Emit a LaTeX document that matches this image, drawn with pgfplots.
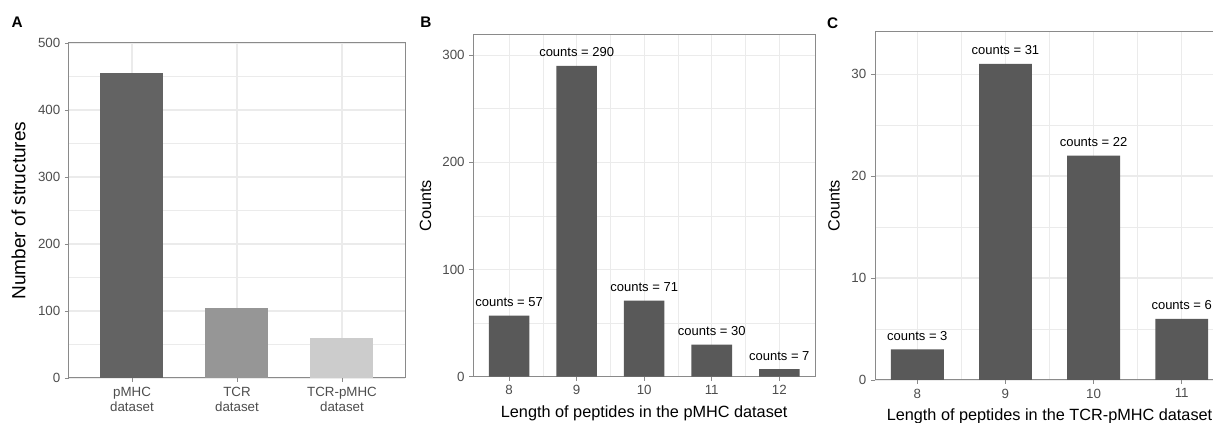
\documentclass[border=0pt]{standalone}
\usepackage{fontspec}
\setmainfont{Liberation Sans}
\usepackage{pgfplots}
\pgfplotsset{compat=1.18}

\definecolor{barA1}{HTML}{636363}
\definecolor{barA2}{HTML}{969696}
\definecolor{barA3}{HTML}{CCCCCC}
\definecolor{barB}{HTML}{595959}
\definecolor{gridc}{HTML}{EBEBEB}
\definecolor{framec}{HTML}{8A8A8A}
\definecolor{tickc}{HTML}{4D4D4D}

\pgfplotsset{
  panel/.style={
    scale only axis,
    anchor=south west,
    ybar, ymin=0,
    axis line style={framec, line width=0.75pt},
    tick style={framec, line width=0.6pt},
    tick align=outside, tick pos=left,
    major tick length=3pt, minor tick length=0pt,
    grid=both,
    major grid style={gridc, line width=0.8pt},
    minor grid style={gridc, line width=0.4pt},
    ticklabel style={font=\fontsize{10}{11.25}\selectfont, text=tickc},
    /pgf/number format/assume math mode=true,
    label style={font=\fontsize{12.2}{14}\selectfont},
    every axis plot/.append style={draw=none, bar shift=0pt},
  },
  counts/.style={
    nodes near coords={counts = \pgfmathprintnumber{\pgfplotspointmeta}},
    nodes near coords style={font=\fontsize{9.75}{11}\selectfont, text=black,
      anchor=center, inner sep=0pt, yshift=10pt},
  },
}

\begin{document}
\begin{tikzpicture}

% A: number of structures per dataset
\begin{axis}[panel,
  at={(51.75pt,33.75pt)}, width=252pt, height=251.25pt,
  xmin=0.4, xmax=3.6, ymax=500, bar width=0.6,
  xtick={1,2,3},
  xticklabels={{pMHC\\dataset},{TCR\\dataset},{TCR-pMHC\\dataset}},
  xticklabel style={align=center},
  ytick={0,100,...,500}, minor ytick={50,150,...,450},
  ylabel={Number of structures},
  ylabel style={at={(axis description cs:-0.150,0.5)}, anchor=center,
    font=\fontsize{14.3}{16}\selectfont},
]
\addplot[fill=barA1] coordinates {(1,455)};
\addplot[fill=barA2] coordinates {(2,104)};
\addplot[fill=barA3] coordinates {(3,60)};
\end{axis}

% B: peptide lengths, pMHC
\begin{axis}[panel, counts,
  at={(355pt,34.7pt)}, width=256.3pt, height=256.3pt,
  xmin=7.47, xmax=12.53, ymax=318.7, bar width=0.6,
  xtick={8,...,12}, minor xtick={8.5,9.5,10.5,11.5},
  ytick={0,100,200,300}, minor ytick={50,150,250},
  xlabel={Length of peptides in the pMHC dataset},
  ylabel={Counts},
  xlabel style={at={(axis description cs:0.5,-0.1074)}, anchor=center},
  ylabel style={at={(axis description cs:-0.140,0.5)}, anchor=center},
]
\addplot[fill=barB] coordinates {(8,57) (9,290) (10,71) (11,30) (12,7)};
\end{axis}

% C: peptide lengths, TCR-pMHC
\begin{axis}[panel, counts,
  at={(656.25pt,32.25pt)}, width=261.75pt, height=261.2pt,
  xmin=7.52, xmax=11.48, ymax=34.15, bar width=0.6,
  xtick={8,...,11}, minor xtick={8.5,9.5,10.5},
  ytick={0,10,20,30}, minor ytick={5,15,25},
  xlabel={Length of peptides in the TCR-pMHC dataset},
  ylabel={Counts},
  xlabel style={at={(axis description cs:0.5,-0.1054)}, anchor=center},
  ylabel style={at={(axis description cs:-0.1175,0.5)}, anchor=center},
]
\addplot[fill=barB] coordinates {(8,3) (9,31) (10,22) (11,6)};
\end{axis}

\node[font=\bfseries\fontsize{11.5}{13}\selectfont] at (12.9pt,300.2pt) {A};
\node[font=\bfseries\fontsize{11.5}{13}\selectfont] at (319.4pt,300.2pt) {B};
\node[font=\bfseries\fontsize{11.5}{13}\selectfont] at (624.4pt,300.2pt) {C};

\pgfresetboundingbox
\useasboundingbox (0pt,0pt) rectangle (909.75pt,317.25pt);
\end{tikzpicture}
\end{document}
